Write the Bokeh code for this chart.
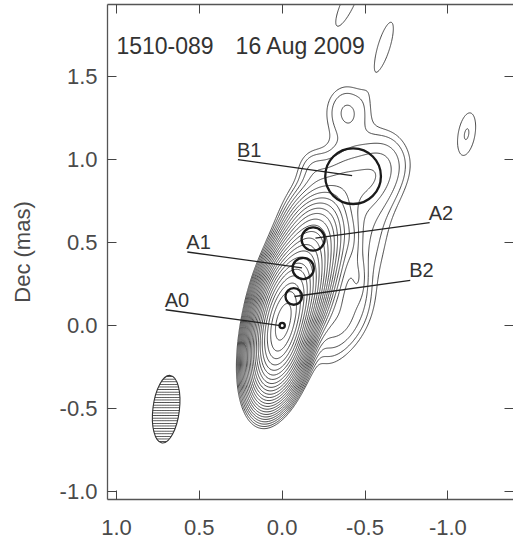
import numpy as np
from bokeh.plotting import figure
from bokeh.models import Range1d, LinearAxis, FixedTicker, PrintfTickFormatter, Label
from bokeh.core.properties import value
from bokeh.embed import file_html
from bokeh.resources import INLINE

FONT = "Liberation Sans"

# ---- data -------------------------------------------------------------
source_name = "1510-089"
epoch = "16 Aug 2009"
x_ticks = [1.0, 0.5, 0.0, -0.5, -1.0]
y_ticks = [-1.0, -0.5, 0.0, 0.5, 1.0, 1.5]

# Gaussian brightness components of the map
# (RA offset mas, Dec offset mas, peak, FWHM major, FWHM minor, PA deg)
comp_x    = [0.00, -0.070, -0.127, -0.190, -0.30, -0.22, -0.45, -0.46, -0.42, -0.52, -0.38, -0.62, -0.39, -0.18, -0.616, -0.40, -1.113]
comp_y    = [0.00,  0.175,  0.344,  0.520,  0.40,  0.72,  0.88,  0.285, 0.52,  0.55,  0.02,  1.00,  1.29,  0.95,  1.687,  1.95,  1.153]
comp_peak = [1.00,  0.20,   0.055,  0.015,  0.0013, 0.0006, 0.0008, 0.0005, 0.0005, 0.0005, 0.0005, 0.0004, 0.0006, 0.00035, 0.00040, 0.00040, 0.00043]
comp_maj  = [0.37,  0.30,   0.30,   0.30,   0.75,  0.30,  0.30,  0.22,  0.22,  0.90,  0.35,  0.28,  0.29,  0.20,  0.45,  0.50,  0.36]
comp_min  = [0.145, 0.17,   0.18,   0.20,   0.22,  0.30,  0.36,  0.08,  0.08,  0.25,  0.20,  0.28,  0.23,  0.15,  0.11,  0.12,  0.14]
comp_pa   = [-12,   -15,    -15,    -15,    -5,    0,     0,     0,     0,     -10,   -30,   0,     0,     0,     -17,   -25,   -10]

contour_levels = [0.0003, 0.00042, 0.0006, 0.00085, 0.0012, 0.0017, 0.0024, 0.0034,
                  0.0048, 0.0068, 0.0096, 0.0136, 0.0192, 0.0272, 0.0384, 0.0543,
                  0.0768, 0.109, 0.154, 0.217, 0.307, 0.435, 0.614, 0.869]

# model-fit components (circles)
mod_name = ["A0", "B2", "A1", "A2", "B1"]
mod_x    = [0.00, -0.070, -0.127, -0.187, -0.428]
mod_y    = [0.00,  0.175,  0.344,  0.521,  0.900]
mod_r    = [0.016, 0.050, 0.064, 0.070, 0.168]

# label leader lines (start at text, end at component)
lab_x0 = [0.703, -0.773, 0.572, -0.890, 0.267]
lab_y0 = [0.095,  0.272, 0.443,  0.620, 1.000]
lab_x1 = [0.010, -0.074, -0.120, -0.201, -0.422]
lab_y1 = [0.000,  0.175,  0.348,  0.527,  0.903]

# restoring beam
beam_x, beam_y = 0.70, -0.504
beam_maj, beam_min, beam_pa = 0.41, 0.16, -7.0

# ---- figure -----------------------------------------------------------
p = figure(width=513, height=548, output_backend="svg", toolbar_location=None,
           x_range=Range1d(1.054, -1.396), y_range=Range1d(-1.048, 1.934),
           min_border_left=107, min_border_right=0, min_border_top=4, min_border_bottom=49,
           x_axis_location=None, y_axis_location=None)
p.outline_line_color = None
p.grid.visible = False
p.background_fill_color = "white"

def mk_axis(ticks, show_labels, line=True, standoff=10):
    ax = LinearAxis(ticker=FixedTicker(ticks=ticks), formatter=PrintfTickFormatter(format="%.1f"))
    ax.major_tick_in = 9
    ax.major_tick_out = 0
    ax.minor_tick_in = 0
    ax.minor_tick_out = 0
    ax.major_tick_line_color = "#444444"
    ax.major_tick_line_width = 1
    ax.axis_line_color = "#555555" if line else None
    ax.axis_line_width = 1.3
    ax.major_label_text_font = FONT
    ax.major_label_text_color = "#4a4a4a"
    if show_labels:
        ax.major_label_text_font_size = "22px"
        ax.major_label_standoff = standoff
    else:
        ax.major_label_overrides = {t: "" for t in ticks}
        ax.major_label_text_font_size = "1px"
        ax.major_label_standoff = 0
    return ax

left = mk_axis(y_ticks, True, standoff=10)
left.axis_label = "Dec (mas)"
left.axis_label_text_font = FONT
left.axis_label_text_font_size = "22px"
left.axis_label_text_font_style = "normal"
left.axis_label_text_color = "#4a4a4a"
left.axis_label_standoff = 22
p.add_layout(left, "left")
p.add_layout(mk_axis(x_ticks, True, standoff=20), "below")
p.add_layout(mk_axis(x_ticks, False), "above")
p.add_layout(mk_axis(y_ticks, False, line=False), "right")

# brightness field from components
gx = np.linspace(1.06, -1.40, 420)
gy = np.linspace(-1.05, 1.94, 520)
X, Y = np.meshgrid(gx, gy)
Z = np.zeros_like(X)
k = 2.0 * np.sqrt(2.0 * np.log(2.0))
for cx, cy, a, fa, fb, pa in zip(comp_x, comp_y, comp_peak, comp_maj, comp_min, comp_pa):
    t = np.deg2rad(pa)
    dx, dy = X - cx, Y - cy
    u = dx * np.sin(t) + dy * np.cos(t)
    v = dx * np.cos(t) - dy * np.sin(t)
    Z += a * np.exp(-0.5 * ((u / (fa / k)) ** 2 + (v / (fb / k)) ** 2))

p.contour(X, Y, Z, levels=contour_levels, line_color="#333333", line_width=0.9)

# beam
p.ellipse(x=beam_x, y=beam_y, width=beam_min, height=beam_maj, angle=np.deg2rad(beam_pa),
          fill_color=None, line_color="#333333", line_width=1.1,
          hatch_pattern="-", hatch_color="#222222", hatch_scale=2.6, hatch_weight=0.9)

# leader lines
p.segment(x0=lab_x0, y0=lab_y0, x1=lab_x1, y1=lab_y1, line_color="#222222", line_width=1.3)

# circles
p.circle(x=mod_x, y=mod_y, radius=mod_r, fill_color=None, line_color="#1a1a1a", line_width=2.3)

# labels
p.text(x=lab_x0, y=lab_y0, text=mod_name, x_offset=-1, y_offset=-10,
       text_font=value(FONT), text_font_size="20px", text_color="#333333",
       text_align="left", text_baseline="alphabetic")

p.add_layout(Label(x=1.0, y=1.687, text=source_name, text_font=FONT, text_font_size="23px",
                   text_color="#333333", text_baseline="alphabetic", text_align="left"))
p.add_layout(Label(x=0.281, y=1.687, text=epoch, text_font=FONT, text_font_size="23px",
                   text_color="#333333", text_baseline="alphabetic", text_align="left"))

open("out.html", "w").write(file_html(p, INLINE))
